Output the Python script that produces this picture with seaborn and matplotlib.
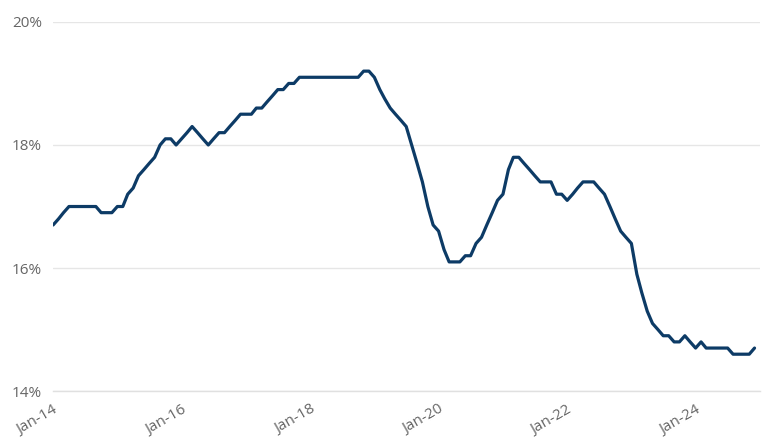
import matplotlib
matplotlib.use("Agg")
import matplotlib.pyplot as plt
import matplotlib.dates as mdates
import matplotlib.ticker as mticker
import seaborn as sns
import pandas as pd

values = [
    # 2014
    16.7, 16.8, 16.9, 17.0, 17.0, 17.0, 17.0, 17.0, 17.0, 16.9, 16.9, 16.9,
    # 2015
    17.0, 17.0, 17.2, 17.3, 17.5, 17.6, 17.7, 17.8, 18.0, 18.1, 18.1, 18.0,
    # 2016
    18.1, 18.2, 18.3, 18.2, 18.1, 18.0, 18.1, 18.2, 18.2, 18.3, 18.4, 18.5,
    # 2017
    18.5, 18.5, 18.6, 18.6, 18.7, 18.8, 18.9, 18.9, 19.0, 19.0, 19.1, 19.1,
    # 2018
    19.1, 19.1, 19.1, 19.1, 19.1, 19.1, 19.1, 19.1, 19.1, 19.1, 19.2, 19.2,
    # 2019
    19.1, 18.9, 18.75, 18.6, 18.5, 18.4, 18.3, 18.0, 17.7, 17.4, 17.0, 16.7,
    # 2020
    16.6, 16.3, 16.1, 16.1, 16.1, 16.2, 16.2, 16.4, 16.5, 16.7, 16.9, 17.1,
    # 2021
    17.2, 17.6, 17.8, 17.8, 17.7, 17.6, 17.5, 17.4, 17.4, 17.4, 17.2, 17.2,
    # 2022
    17.1, 17.2, 17.3, 17.4, 17.4, 17.4, 17.3, 17.2, 17.0, 16.8, 16.6, 16.5,
    # 2023
    16.4, 15.9, 15.6, 15.3, 15.1, 15.0, 14.9, 14.9, 14.8, 14.8, 14.9, 14.8,
    # 2024
    14.7, 14.8, 14.7, 14.7, 14.7, 14.7, 14.7, 14.6, 14.6, 14.6, 14.6, 14.7,
]
dates = pd.date_range("2014-01-01", periods=len(values), freq="MS")
y_ticks = [14, 16, 18, 20]

df = pd.DataFrame({"date": dates, "value": values})

sns.set_theme(style="white")
plt.rcParams["font.family"] = ["Open Sans", "DejaVu Sans"]

fig = plt.figure(figsize=(7.7, 4.47), dpi=100)
ax = fig.add_axes([0.069, 0.125, 0.918, 0.826])

sns.lineplot(data=df, x="date", y="value", ax=ax, color="#0d3b66", linewidth=2.3)

ax.set_ylim(14, 20)
ax.set_yticks(y_ticks)
ax.yaxis.set_major_formatter(mticker.FuncFormatter(lambda v, p: f"{v:.0f}%"))
ax.set_xlim(pd.Timestamp("2014-01-01"), pd.Timestamp("2025-01-01"))
ax.xaxis.set_major_locator(mdates.YearLocator(2, month=1, day=1))
ax.xaxis.set_major_formatter(mdates.DateFormatter("%b-%y"))

ax.grid(axis="y", color="#e6e6e6", linewidth=1.0)
ax.set_axisbelow(True)
for s in ["top", "right", "left"]:
    ax.spines[s].set_visible(False)
ax.spines["bottom"].set_color("#e0e0e0")
ax.spines["bottom"].set_linewidth(1.0)
ax.tick_params(axis="x", colors="#666666", labelsize=11, length=5, width=1,
               color="#e0e0e0", rotation=30, pad=3)
ax.tick_params(axis="y", colors="#666666", labelsize=11, length=0, pad=8)
for lab in ax.get_xticklabels():
    lab.set_ha("right")
    lab.set_rotation_mode("anchor")
ax.set_xlabel("")
ax.set_ylabel("")

fig.savefig("out.png", dpi=100, facecolor="white")
